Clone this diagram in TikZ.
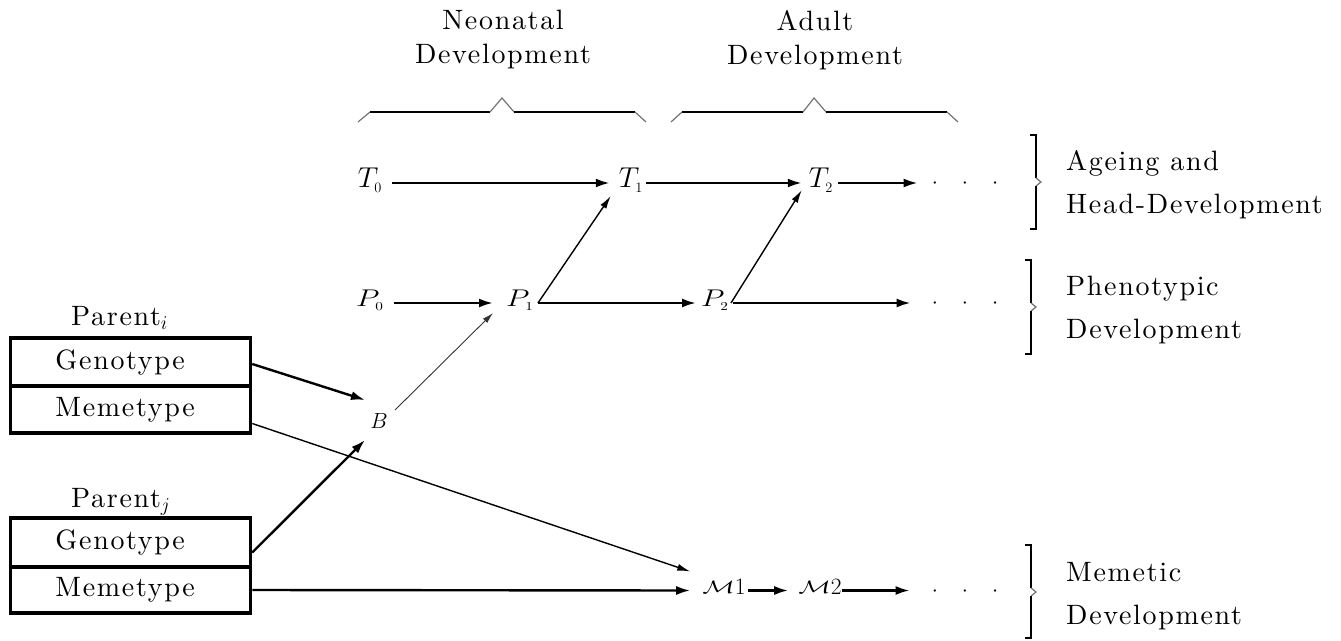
\documentclass[tikz,border=0pt]{standalone}
\usepackage{fix-cm}
\usepackage{fontspec}
\setmainfont{lmroman10-regular.otf}[LetterSpace=6]
\usepackage{graphicx}
\usetikzlibrary{arrows.meta}
\tikzset{
  lab/.style={font=\fontsize{28bp}{43bp}\selectfont, inner sep=0pt},
  toplab/.style={font=\fontsize{28bp}{34bp}\selectfont, inner sep=0pt, align=center},
  cell/.style={lab, draw, line width=3.5bp, minimum width=240bp, text width=150bp, align=left, inner xsep=45bp, inner ysep=0pt},
  tm/.style={font=\fontsize{25bp}{25bp}\selectfont, inner sep=0pt, text height=12bp, text depth=2bp},
  pm/.style={font=\fontsize{21bp}{21bp}\selectfont, inner sep=0pt, text height=10bp, text depth=3bp},
  bm/.style={font=\fontsize{19bp}{19bp}\selectfont, inner sep=0pt},
  mm/.style={font=\fontsize{18bp}{18bp}\selectfont, inner sep=0pt, text height=7bp, text depth=1bp},
  dotsn/.style={font=\fontsize{22bp}{22bp}\selectfont, inner sep=0pt, text height=11bp, text depth=0bp},
  arr/.style={line width=2.4bp, -{Latex[length=14bp,width=9bp]}},
  thinarr/.style={line width=1.4bp, -{Latex[length=13bp,width=7bp]}},
  hairarr/.style={line width=0.9bp, draw=black!80, -{Latex[length=11bp,width=6bp]}},
  brace/.style={line width=2.6bp},
  bracegray/.style={line width=1.2bp, draw=black!55},
}
\begin{document}
\begin{tikzpicture}[x=1bp,y=-1bp]
\useasboundingbox (0,0) rectangle (1341,641);

% top labels
\node[toplab] (neo) at (503,40) {Neonatal\\Development};
\node[toplab] (adu) at (815,40) {Adult\\Development};

% top braces
\draw[bracegray] (358,122) -- (370,112);
\draw[brace] (370,112) -- (490,112);
\draw[bracegray] (490,112) -- (502,98) -- (514,112);
\draw[brace] (514,112) -- (635,112);
\draw[bracegray] (635,112) -- (646,122);

\draw[bracegray] (671,122) -- (682,112);
\draw[brace] (682,112) -- (803,112);
\draw[bracegray] (803,112) -- (814,98) -- (826,112);
\draw[brace] (826,112) -- (947,112);
\draw[bracegray] (947,112) -- (958,122);

% math nodes
\node[tm] (T0) at (370,183) {\scalebox{1.15}{$T_{\scriptscriptstyle 0}$}};
\node[tm] (T1) at (631,183) {\scalebox{1.15}{$T_{\scriptscriptstyle 1}$}};
\node[tm] (T2) at (821,183) {\scalebox{1.15}{$T_{\scriptscriptstyle 2}$}};
\node[dotsn] (dT) at (965,183) {$\cdot$\hspace{24bp}$\cdot$\hspace{24bp}$\cdot$};

\node[pm] (P0) at (370,303) {\scalebox{1.45}[1.15]{$P_{\scriptscriptstyle 0}$}};
\node[pm] (P1) at (520,303) {\scalebox{1.45}[1.15]{$P_{\scriptscriptstyle 1}$}};
\node[pm] (P2) at (715,303) {\scalebox{1.45}[1.15]{$P_{\scriptscriptstyle 2}$}};
\node[dotsn] (dP) at (965,303) {$\cdot$\hspace{24bp}$\cdot$\hspace{24bp}$\cdot$};

\node[bm] (B) at (379,421) {\scalebox{1.15}{$B$}};

\node[mm] (M1) at (724,590.5) {\scalebox{1.5}[1]{$\mathcal{M}$}\raisebox{-1bp}{\scalebox{1.3}{$1$}}};
\node[mm] (M2) at (820,590.5) {\scalebox{1.5}[1]{$\mathcal{M}$}\raisebox{-1bp}{\scalebox{1.3}{$2$}}};
\node[dotsn] (dM) at (965,590.5) {$\cdot$\hspace{24bp}$\cdot$\hspace{24bp}$\cdot$};

% parents
\node[lab, anchor=base west] (pi) at (71,325) {Parent$_i$};
\node[cell, minimum height=48bp] (gi) at (130.5,362) {Genotype};
\node[cell, minimum height=47bp] (mi) at (130.5,409.5) {Memetype};
\node[lab, anchor=base west] (pj) at (71,507) {Parent$_j$};
\node[cell, minimum height=49bp] (gj) at (130.5,542.5) {Genotype};
\node[cell, minimum height=46bp] (mj) at (130.5,590) {Memetype};

% right labels
\node[lab, anchor=west, align=left] (rT) at (1066,184.5) {Ageing and\\Head-Development};
\node[lab, anchor=west, align=left] (rP) at (1066,310) {Phenotypic\\Development};
\node[lab, anchor=west, align=left] (rM) at (1066,596) {Memetic\\Development};

% right brackets
\draw[brace] (1030,135) -- (1036,135) -- (1036,178);
\draw[bracegray] (1036,178) -- (1041,182) -- (1036,186);
\draw[brace] (1036,186) -- (1036,229) -- (1030,229);

\draw[brace] (1025,260) -- (1031,260) -- (1031,303);
\draw[bracegray] (1031,303) -- (1036,307) -- (1031,311);
\draw[brace] (1031,311) -- (1031,354) -- (1025,354);

\draw[brace] (1025,545) -- (1031,545) -- (1031,588);
\draw[bracegray] (1031,588) -- (1036,592) -- (1031,596);
\draw[brace] (1031,596) -- (1031,638) -- (1025,638);

% connectors
\draw[arr] ([xshift=10bp]T0.east) -- ([xshift=-9bp]T1.west);
\draw[arr] ([xshift=3bp]T1.east) -- ([xshift=-7bp]T2.west);
\draw[arr] ([xshift=5bp]T2.east) -- ([xshift=-14bp]dT.west);

\draw[arr] ([xshift=10bp]P0.east) -- ([xshift=-13bp]P1.west);
\draw[arr] ([xshift=4bp]P1.east) -- ([xshift=-5bp]P2.west);
\draw[arr] ([xshift=4bp]P2.east) -- ([xshift=-21bp]dP.west);

\draw[thinarr] ([xshift=4bp]P1.east) -- ([shift={(-8,13)}]T1.west);
\draw[thinarr] ([xshift=2bp]P2.east) -- ([shift={(-7,7)}]T2.west);
\draw[hairarr] ([shift={(16,-11)}]B.center) -- ([shift={(-13,10)}]P1.west);

\draw[arr] ([yshift=-2bp]gi.east) -- ([shift={(-14,-21)}]B.center);
\draw[arr] ([yshift=-10bp]gj.east) -- ([shift={(-14,19)}]B.center);
\draw[thinarr] ([yshift=-14bp]mi.east) -- ([shift={(-12,-19)}]M1.west);
\draw[arr] (mj.east) -- ([xshift=-12bp]M1.west);
\draw[arr] ([xshift=2bp]M1.east) -- ([xshift=-10bp]M2.west);
\draw[arr] (M2.east) -- ([xshift=-22bp]dM.west);
\end{tikzpicture}
\end{document}
